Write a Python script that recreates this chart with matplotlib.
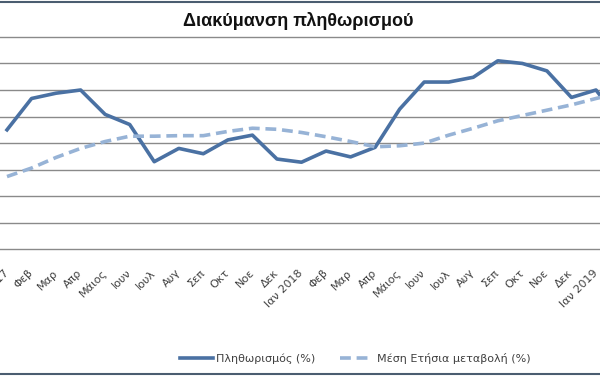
import matplotlib
matplotlib.use("Agg")
import matplotlib.pyplot as plt
from matplotlib.lines import Line2D

months = ["Ιαν 2017", "Φεβ", "Μαρ", "Απρ", "Μάιος", "Ιουν", "Ιουλ", "Αυγ", "Σεπ", "Οκτ", "Νοε", "Δεκ",
          "Ιαν 2018", "Φεβ", "Μαρ", "Απρ", "Μάιος", "Ιουν", "Ιουλ", "Αυγ", "Σεπ", "Οκτ", "Νοε", "Δεκ",
          "Ιαν 2019", "Φεβ"]

# Πληθωρισμός (%)
inflation = [2.25, 2.84, 2.94, 3.00, 2.54, 2.35, 1.65, 1.90, 1.80, 2.06, 2.15, 1.70,
             1.64, 1.85, 1.74, 1.92, 2.64, 3.15, 3.15, 3.24, 3.55, 3.50, 3.36, 2.86,
             3.00, 2.40]

# Μέση Ετήσια μεταβολή (%)
avg_change = [1.37, 1.53, 1.73, 1.90, 2.03, 2.13, 2.13, 2.14, 2.14, 2.22, 2.28, 2.26,
              2.20, 2.12, 2.03, 1.93, 1.95, 2.00, 2.15, 2.28, 2.42, 2.52, 2.62, 2.72,
              2.84, 2.95]

fig = plt.figure(figsize=(6, 3.76), dpi=100)
ax = fig.add_axes([0, (376 - 254.6) / 376, 1, 223 / 376])

x = range(len(months))
ax.plot(x, inflation, color="#4a71a3", lw=2.6, solid_joinstyle="round",
        label="Πληθωρισμός (%)")
ax.plot(x, avg_change, color="#97b3d6", lw=2.6, ls=(0, (3, 1.6)),
        label="Μέση Ετήσια μεταβολή (%)")

ax.set_ylim(-0.1, 4.1)
ax.set_yticks([0.5 * k for k in range(9)])
ax.yaxis.grid(True, color="#8a8a8a", lw=1)
ax.set_axisbelow(True)
ax.tick_params(axis="y", length=0, labelleft=False)

ax.set_xticks(list(x))
ax.set_xticklabels(months, rotation=45, ha="right", va="center",
                   rotation_mode="anchor", fontsize=8, color="#404040")
ax.tick_params(axis="x", length=0, pad=12)

# the picture is cropped: first point sits 7px from the left edge
sp = 589 / 24
x0 = -7 / sp
ax.set_xlim(x0, x0 + 600 / sp)

for s in ax.spines.values():
    s.set_visible(False)

fig.text(0.497, 0.944, "Διακύμανση πληθωρισμού", ha="center", va="center",
         fontsize=13, fontweight="bold", family="Liberation Sans", color="#111111")

fig.legend(loc="center", bbox_to_anchor=(355 / 600, 1 - 358 / 376), ncol=2,
           frameon=False, fontsize=8, handlelength=3.0, handletextpad=0.3,
           columnspacing=2.2, labelcolor="#404040")

fig.add_artist(Line2D([0, 1], [1 - 2 / 376, 1 - 2 / 376], color="#4b5d70", lw=1.5))
fig.add_artist(Line2D([0, 1], [2 / 376, 2 / 376], color="#4b5d70", lw=1.5))

fig.savefig("out.png", dpi=100)
